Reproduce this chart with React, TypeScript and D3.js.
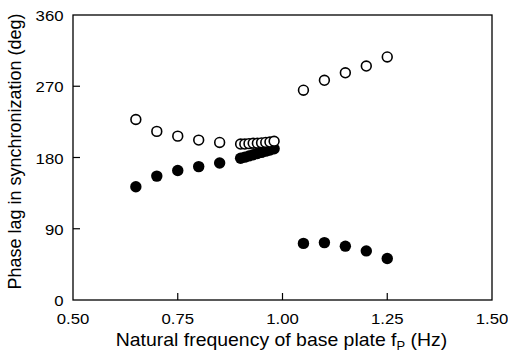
import React from "react";
import * as d3 from "d3";

const openX = [0.65, 0.70, 0.75, 0.80, 0.85, 0.90, 0.91, 0.92, 0.93, 0.94, 0.95, 0.96, 0.97, 0.98, 1.05, 1.10, 1.15, 1.20, 1.25];
const openY = [228, 213, 207, 202, 199, 197, 197, 197.5, 198, 198, 198.5, 199, 199.5, 200.5, 265, 277.5, 287, 295.5, 307];
const filledX = [0.65, 0.70, 0.75, 0.80, 0.85, 0.90, 0.91, 0.92, 0.93, 0.94, 0.95, 0.96, 0.97, 0.98, 1.05, 1.10, 1.15, 1.20, 1.25];
const filledY = [143, 156.5, 163.5, 168.5, 173, 179, 180.5, 182, 183.5, 185, 186.5, 188, 189.5, 191, 71.5, 72.5, 68, 62, 52.5];
const xTicks = [0.5, 0.75, 1.0, 1.25, 1.5];
const yTicks = [0, 90, 180, 270, 360];

const W = 508, H = 362;
const M = { left: 73, right: 492, top: 15, bottom: 300 };
const SX = 1.08;

export default function App() {
  const x = d3.scaleLinear().domain([0.5, 1.5]).range([M.left, M.right]);
  const y = d3.scaleLinear().domain([0, 360]).range([M.bottom, M.top]);
  const font = "'Liberation Sans', Arial, Helvetica, sans-serif";
  const r = 5.3;
  return (
    <svg width={W} height={H} style={{ position: "absolute", left: 0, top: 0, background: "#fff" }} fontFamily={font}>
      <rect x={M.left} y={M.top} width={M.right - M.left} height={M.bottom - M.top} fill="none" stroke="#000" strokeWidth={1.3} />
      {xTicks.slice(1, -1).map((t) => (
        <line key={"xt" + t} x1={x(t)} x2={x(t)} y1={M.bottom} y2={M.bottom - 7} stroke="#000" strokeWidth={1.2} />
      ))}
      {yTicks.slice(1, -1).map((t) => (
        <line key={"yt" + t} x1={M.left} x2={M.left + 7} y1={y(t)} y2={y(t)} stroke="#000" strokeWidth={1.2} />
      ))}
      {xTicks.map((t) => (
        <text key={"xl" + t} transform={`translate(${x(t)},324) scale(${SX},1)`} textAnchor="middle" fontSize={15.5} fill="#000">
          {d3.format(".2f")(t)}
        </text>
      ))}
      {yTicks.map((t) => (
        <text key={"yl" + t} transform={`translate(63.5,${y(t) + 6}) scale(${SX},1)`} textAnchor="end" fontSize={15.5} fill="#000">
          {t}
        </text>
      ))}
      <text transform={`translate(281.5,346) scale(${SX},1)`} textAnchor="middle" fontSize={18} fill="#000">
        Natural frequency of base plate f
        <tspan fontSize={12} dy={4}>P</tspan>
        <tspan dy={-4}> (Hz)</tspan>
      </text>
      <text transform={`translate(21,151.5) rotate(-90)`} textAnchor="middle" fontSize={18} fill="#000">
        Phase lag in synchronization (deg)
      </text>
      {filledX.map((v, i) => (
        <circle key={"f" + i} cx={x(v)} cy={y(filledY[i])} r={r + 0.4} fill="#000" />
      ))}
      {openX.map((v, i) => (
        <circle key={"o" + i} cx={x(v)} cy={y(openY[i])} r={r - 0.4} fill="#fff" stroke="#000" strokeWidth={1.6} />
      ))}
    </svg>
  );
}
